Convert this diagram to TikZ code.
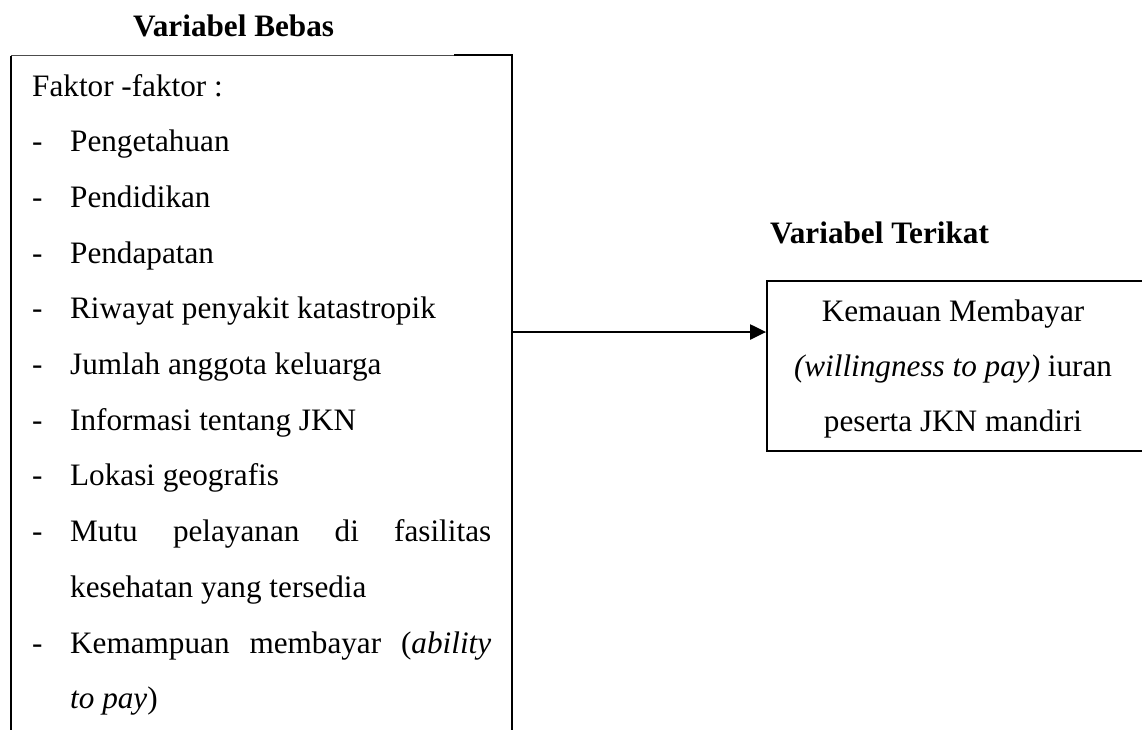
\documentclass[tikz,border=0pt]{standalone}
\usepackage{fontspec}
\setmainfont{Liberation Serif}
\usetikzlibrary{arrows.meta}
\tikzset{
  txt/.style={anchor=base west, inner sep=0pt, font=\fontsize{31.2}{36}\selectfont},
  ctxt/.style={anchor=base, inner sep=0pt, font=\fontsize{31.2}{36}\selectfont},
  head/.style={anchor=base west, inner sep=0pt, font=\fontsize{31.2}{36}\selectfont\bfseries},
  boxline/.style={line width=1.8pt, black},
  thinline/.style={line width=1.2pt, black!70},
  conn/.style={line width=2.2pt, -{Triangle[length=16pt,width=15pt]}}
}
\newcommand{\dashitem}[1]{\makebox[38pt][l]{-}#1}
\begin{document}
\begin{tikzpicture}[x=1pt,y=-1pt]
\useasboundingbox (0,0) rectangle (1142,729);
\clip (0,0) rectangle (1142,729);
\fill[white] (0,0) rectangle (1142,729);
% headings
\node[head] (hbebas) at (133,36) {Variabel Bebas};
\node[head] (hterikat) at (770,243) {Variabel Terikat};
% left box
\node[minimum width=501pt, minimum height=704pt, inner sep=0pt, draw=none] (bebas) at (261.5,408) {};
\draw[boxline] (bebas.south west) -- (bebas.north west);
\draw[thinline] (bebas.north west) -- ([xshift=-58pt]bebas.north east);
\draw[boxline] ([xshift=-58pt,yshift=0.5pt]bebas.north east) -- ([yshift=0.5pt]bebas.north east) -- (bebas.south east);
% left box lines
\node[txt] (l1) at (32,96) {Faktor -faktor :};
\node[txt] (l2) at (32,151.7) {\dashitem{Pengetahuan}};
\node[txt] (l3) at (32,207.4) {\dashitem{Pendidikan}};
\node[txt] (l4) at (32,263.1) {\dashitem{Pendapatan}};
\node[txt] (l5) at (32,318.8) {\dashitem{Riwayat penyakit katastropik}};
\node[txt] (l6) at (32,374.5) {\dashitem{Jumlah anggota keluarga}};
\node[txt] (l7) at (32,430.2) {\dashitem{Informasi tentang JKN}};
\node[txt] (l8) at (32,485.9) {\dashitem{Lokasi geografis}};
\node[txt] (l9) at (32,541.6) {\dashitem{\makebox[421pt][s]{Mutu pelayanan di fasilitas}}};
\node[txt] (l10) at (32,597.3) {\hspace*{38pt}kesehatan yang tersedia};
\node[txt] (l11) at (32,653.0) {\dashitem{\makebox[421pt][s]{Kemampuan membayar (\textit{ability}}}};
\node[txt] (l12) at (32,708.7) {\hspace*{38pt}\textit{to pay})};
% right box
\node[minimum width=385pt, minimum height=170pt, inner sep=0pt, draw, boxline] (terikat) at (959.5,366) {};
\node[ctxt] (r1) at (953,321) {Kemauan Membayar};
\node[ctxt] (r2) at (953,376) {\textit{(willingness to pay)} iuran};
\node[ctxt] (r3) at (953,431) {peserta JKN mandiri};
% connector
\coordinate (ay) at (0,332);
\draw[conn] (bebas.east |- ay) -- (terikat.west |- ay);
\end{tikzpicture}
\end{document}
